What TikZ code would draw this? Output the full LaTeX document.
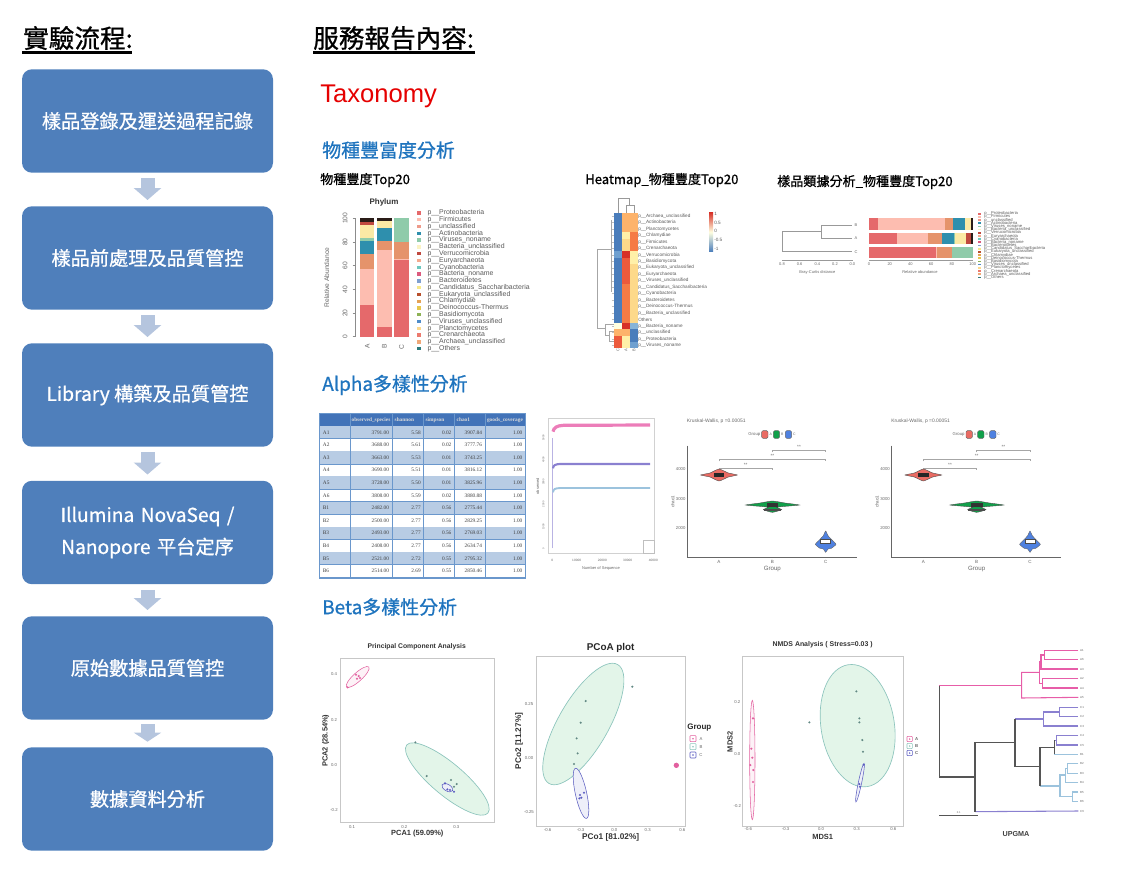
\documentclass[tikz,border=0pt]{standalone}
\usepackage{fontspec}
\usepackage{xcolor}
\usetikzlibrary{arrows.meta}
\setmainfont{Liberation Sans}
\newfontfamily\cjk[FakeBold=0.9]{Noto Sans CJK TC}
\newfontfamily\cjkfat[FakeBold=0.8]{Noto Sans CJK TC}
\newfontfamily\tablefont{Liberation Serif}
\newcommand{\fs}[1]{\fontsize{#1}{#1}\selectfont}
\definecolor{flowblue}{HTML}{4F7FBB}
\definecolor{flowpale}{HTML}{B5C5DE}
\definecolor{secblue}{HTML}{1F74BE}
\definecolor{stred}{HTML}{E5696B}
\definecolor{stpink}{HTML}{FDBDB0}
\definecolor{storange}{HTML}{E5936B}
\definecolor{stteal}{HTML}{2E8FAD}
\definecolor{stmint}{HTML}{8FCBAA}
\definecolor{styellow}{HTML}{FBE9A5}
\definecolor{stdeep}{HTML}{C0493F}
\definecolor{stblack}{HTML}{2A1C18}
\definecolor{hb}{HTML}{4A7DBB}
\definecolor{hl}{HTML}{6FA0D0}
\definecolor{hm}{HTML}{88B4D8}
\definecolor{hw}{HTML}{FFFFE0}
\definecolor{hp}{HTML}{FFF0A8}
\definecolor{hy}{HTML}{FDD98A}
\definecolor{ho}{HTML}{FDB36B}
\definecolor{hf}{HTML}{F57B45}
\definecolor{hs}{HTML}{EC5A3C}
\definecolor{hd}{HTML}{D73027}
\definecolor{tabhead}{HTML}{4273B8}
\definecolor{tabrow}{HTML}{B8CCE4}
\definecolor{tabline}{HTML}{6A97CC}
\definecolor{grpa}{HTML}{E2609F}
\definecolor{grpb}{HTML}{8CC4BC}
\definecolor{grpc}{HTML}{5A5CC0}
\definecolor{greenfill}{HTML}{E3F5E9}
\definecolor{treepink}{HTML}{E75DA8}
\definecolor{treepurple}{HTML}{8A80D0}
\definecolor{treelight}{HTML}{9CC3DD}
\definecolor{treedark}{HTML}{555555}
\newcommand{\phylumlist}{0/E5696B/Proteobacteria,1/FDBDB0/Firmicutes,2/EE9A8A/unclassified,3/2E8FAD/Actinobacteria,4/8FCBAA/Viruses\_noname,5/FBF3C4/Bacteria\_unclassified,6/C0493F/Verrucomicrobia,7/F5A98E/Euryarchaeota,8/6CC7BE/Cyanobacteria,9/DC5A7E/Bacteria\_noname,10/7FA0D0/Bacteroidetes,11/F7E88A/Candidatus\_Saccharibacteria,12/B8502C/Eukaryota\_unclassified,13/E5A255/Chlamydiae,14/E6C74C/Deinococcus-Thermus,15/8DB255/Basidiomycota,16/4F8CC9/Viruses\_unclassified,17/FCD98C/Planctomycetes,18/EC7A6E/Crenarchaeota,19/F0A878/Archaea\_unclassified,20/2C7B7B/Others}
\begin{document}
\begin{tikzpicture}[
x=0.75pt,
y=-0.75pt,
flowbox/.style={fill=flowblue,rounded corners=7.5pt,minimum width=188.25pt,minimum height=77.6pt,inner sep=0pt,align=center,text=white,font=\cjkfat\fs{14.4}},
flowarrow/.style={draw=flowpale,line width=10.5pt,-{Triangle[width=20.25pt,length=9pt]},shorten <=4pt,shorten >=4.5pt},
mainhead/.style={font=\cjk\fs{19.2},inner sep=0pt,anchor=west},
sechead/.style={font=\cjkfat\fs{14.2},text=secblue,inner sep=0pt,anchor=west},
charthead/.style={font=\cjkfat\fs{9.8},inner sep=0pt,anchor=west},
legtext/.style={inner sep=0pt,anchor=west,text=black!65},
ticktext/.style={inner sep=0pt,text=black!60},
axistext/.style={inner sep=0pt,text=black!80,font=\bfseries\fs{5.6}},
frameline/.style={draw=black!22,line width=0.7pt},
treeline/.style={line width=0.8pt},
bracketline/.style={draw=black!35,line width=0.4pt},
]
\useasboundingbox (0,0) rectangle (1140,875);

%% left column
% nodes
\node[mainhead] (hleft) at (23,38) {實驗流程:};
\node[flowbox] (b1) at (147.5,121) {樣品登錄及運送過程記錄};
\node[flowbox] (b2) at (147.5,258) {樣品前處理及品質管控};
\node[flowbox] (b3) at (147.5,395) {Library 構築及品質管控};
\node[flowbox,text width=180pt,execute at begin node=\setlength{\baselineskip}{24pt}] (b4) at (147.5,532.5) {Illumina NovaSeq /\\ Nanopore 平台定序};
\node[flowbox] (b5) at (147.5,668) {原始數據品質管控};
\node[flowbox] (b6) at (147.5,799) {數據資料分析};
% arrows
\draw[flowarrow] (b1) -- (b2);
\draw[flowarrow] (b2) -- (b3);
\draw[flowarrow] (b3) -- (b4);
\draw[flowarrow] (b4) -- (b5);
\draw[flowarrow,shorten <=3.2pt,shorten >=4pt,-{Triangle[width=20.25pt,length=6.75pt]}] (b5) -- (b6);
\draw[line width=1.6pt] (22,52.5) -- (132,52.5);

%% right column headings
\node[mainhead] (hright) at (313,38) {服務報告內容:};
\draw[line width=1.6pt] (313,52.5) -- (475,52.5);
\node[inner sep=0pt,anchor=west,text=red!90!black,font=\fs{19.2}] (taxon) at (320,96) {Taxonomy};
\node[sechead] (secrich) at (322,150) {物種豐富度分析};
\node[sechead] (secalpha) at (322,385) {Alpha多樣性分析};
\node[sechead] (secbeta) at (322,607) {Beta多樣性分析};
\node[charthead] (tbar) at (320,180) {物種豐度Top20};
\node[charthead] (theat) at (585,180) {Heatmap\_物種豐度Top20};
\node[charthead] (tclust) at (777,182) {樣品類據分析\_物種豐度Top20};

%% stacked bars
\begin{scope}[shift={(310,165)},x=0.25pt,y=-0.25pt]
\node[inner sep=0pt,text=black!80,font=\bfseries\fs{6}] (tphylum) at (222,113) {Phylum};
\foreach \col/\xa/\lo/\hi in {stred/150/0/27,stpink/150/27/57,storange/150/57/70,stteal/150/70/81,stmint/150/81/83,styellow/150/83/94,stdeep/150/94/97,stblack/150/97/100,stred/202/0/8,stpink/202/8/73,storange/202/73/81,stteal/202/81/92,styellow/202/92/98,stblack/202/98/100,stred/253/0/65,stpink/253/65/66,storange/253/66/80,stmint/253/80/100}
  \fill[\col] (\xa,{515-3.55*\lo}) rectangle ({\xa+43},{515-3.55*\hi});
\draw[black!45,line width=0.4pt] (135,160) -- (135,515);
\foreach \v in {0,20,40,60,80,100} {
  \draw[black!45,line width=0.4pt] (128,{515-3.55*\v}) -- (135,{515-3.55*\v});
  \node[ticktext,rotate=90,font=\fs{5}] at (105,{515-3.55*\v}) {\v};
}
\node[ticktext,rotate=90,font=\fs{5}] (ylbar) at (50,338) {Relative Abundance};
\foreach \xa/\nm in {172/A,223/B,275/C}
  \node[ticktext,rotate=90,font=\fs{5}] at (\xa,545) {\nm};
\foreach \i/\hex/\nm in \phylumlist {
  \definecolor{lc}{HTML}{\hex}
  \fill[lc] (322,{139+20.35*\i}) rectangle (333,{149+20.35*\i});
  \node[legtext,font=\fs{5.2}] at (352,{144+20.35*\i}) {p\_\_\nm};
}
\end{scope}

%% heatmap
\begin{scope}[shift={(570,165)},x=0.25pt,y=-0.25pt]
\foreach \i/\ca/\cb/\cc/\nm in {0/hb/ho/ho/Archaea\_unclassified,1/hb/ho/ho/Actinobacteria,2/hb/ho/ho/Planctomycetes,3/hb/hp/hf/Chlamydiae,4/hb/hy/hf/Firmicutes,5/hb/hy/hf/Crenarchaeota,6/hl/hd/hp/Verrucomicrobia,7/hb/hs/hp/Basidiomycota,8/hb/hs/hy/Eukaryota\_unclassified,9/hb/hs/hy/Euryarchaeota,10/hb/hs/hy/Viruses\_unclassified,11/hb/hf/hy/Candidatus\_Saccharibacteria,12/hb/hf/hy/Cyanobacteria,13/hb/hf/hy/Bacteroidetes,14/hb/hf/hy/Deinococcus-Thermus,15/hb/hf/hy/Bacteria\_unclassified,16/hb/hf/hy/Others,17/hw/hd/hm/Bacteria\_noname,18/ho/ho/hb/unclassified,19/hs/hp/hb/Proteobacteria,20/hs/hp/hl/Viruses\_noname} {
  \fill[\ca] (132,{143+19.4*\i}) rectangle (156.3,{143+19.4*(\i+1)});
  \fill[\cb] (156,{143+19.4*\i}) rectangle (180.3,{143+19.4*(\i+1)});
  \fill[\cc] (180,{143+19.4*\i}) rectangle (204,{143+19.4*(\i+1)});
  \node[legtext,font=\fs{3.5}] at (204,{153+19.4*\i}) {\ifnum\i=16\relax\else p\_\_\fi\nm};
  \draw[black!25,line width=0.2pt] (125,{153+19.4*\i}) -- (132,{153+19.4*\i});
}
\draw[black!40,line width=0.3pt] (144,143) -- (144,100) -- (179,100) -- (179,122);
\draw[black!40,line width=0.3pt] (168,143) -- (168,122) -- (192,122) -- (192,143);
\draw[black!35,line width=0.3pt] (125,165) -- (125,380);
\draw[black!35,line width=0.3pt] (125,252) -- (82,252) -- (82,490) -- (105,490);
\draw[black!35,line width=0.3pt] (132,478) -- (105,478) -- (105,510) -- (118,510);
\draw[black!35,line width=0.3pt] (132,500) -- (118,500) -- (118,530) -- (132,530);
\fill[top color=hd,bottom color=hb,middle color=hw] (417,142) rectangle (429,260);
\foreach \yy/\nm in {147/1,173/0.5,199/0,226/-0.5,252/-1}
  \node[legtext,font=\fs{3.5}] at (432,\yy) {\nm};
\foreach \xa/\nm in {144/C,168/A,192/B}
  \node[ticktext,rotate=90,font=\fs{3}] at (\xa,555) {\nm};
\end{scope}

%% clustered bars
\begin{scope}[shift={(770,200)},x=0.25pt,y=-0.25pt]
\draw[black!40,line width=0.4pt] (245,75) -- (155,75) -- (155,115) -- (245,115);
\draw[black!40,line width=0.4pt] (155,95) -- (36,95) -- (36,155) -- (245,155);
\foreach \yy/\nm in {75/B,115/A,155/C}
  \node[ticktext,font=\fs{3}] at (258,\yy) {\nm};
\draw[black!40,line width=0.3pt] (36,180) -- (247,180);
\foreach \xa/\nm in {36/0.8,89/0.6,142/0.4,195/0.2,247/0.0} {
  \draw[black!40,line width=0.3pt] (\xa,180) -- (\xa,184);
  \node[ticktext,font=\fs{3}] at (\xa,191) {\nm};
}
\node[ticktext,font=\fs{3}] (xldist) at (142,216) {Bray-Curtis distance};
\foreach \col/\yy/\lo/\hi in {stred/55/0/9,stpink/55/9/73,storange/55/73/81,stteal/55/81/93,styellow/55/93/98,stblack/55/98/100,stred/98/0/27,stpink/98/27/57,storange/98/57/70,stteal/98/70/82,stmint/98/82/83,styellow/98/83/94,stdeep/98/94/98,stblack/98/98/100,stred/140/0/65,stpink/140/65/66,storange/140/66/80,stmint/140/80/100}
  \fill[\col] ({297+3.11*\lo},\yy) rectangle ({297+3.11*\hi},{\yy+34});
\draw[black!40,line width=0.3pt] (297,180) -- (608,180);
\foreach \v in {0,20,40,60,80,100} {
  \draw[black!40,line width=0.3pt] ({297+3.11*\v},180) -- ({297+3.11*\v},184);
  \node[ticktext,font=\fs{3}] at ({297+3.11*\v},193) {\v};
}
\node[ticktext,font=\fs{3}] (xlrel) at (450,216) {Relative abundance};
\foreach \i/\hex/\nm in \phylumlist {
  \definecolor{lc}{HTML}{\hex}
  \fill[lc] (625,{38.5+9.55*\i}) rectangle (632,{43.5+9.55*\i});
  \node[legtext,font=\fs{3.1}] at (642,{41+9.55*\i}) {p\_\_\nm};
}
\end{scope}

%% table
\begin{scope}[shift={(310,405)},x=0.25pt,y=-0.25pt,font=\tablefont]
\fill[tabhead] (27,25) rectangle (646,63);
\foreach \xa/\nm in {183/observed\_species,283/shannon,375/simpson,460/chao1,585/goods\_coverage}
  \node[inner sep=0pt,text=white!85!black,font=\tablefont\bfseries\fs{4}] at (\xa,45) {\nm};
\foreach \i/\nm/\va/\vb/\vc/\vd in {0/A1/3791.00/5.58/0.02/3907.84,1/A2/3688.00/5.61/0.02/3777.76,2/A3/3663.00/5.53/0.01/3743.25,3/A4/3690.00/5.51/0.01/3816.12,4/A5/3728.00/5.50/0.01/3825.96,5/A6/3808.00/5.59/0.02/3880.88,6/B1/2482.00/2.77/0.56/2775.44,7/B2/2500.00/2.77/0.56/2829.25,8/B3/2493.00/2.77/0.56/2769.03,9/B4/2408.00/2.77/0.56/2634.74,10/B5/2521.00/2.72/0.55/2795.32,11/B6/2514.00/2.69/0.55/2850.46} {
  \pgfmathparse{int(mod(\i,2))}
  \ifnum\pgfmathresult=0\relax\fill[tabrow] (27,{63+37.8*\i}) rectangle (646,{63+37.8*(\i+1)});\fi
  \draw[tabline,line width=0.4pt] (27,{63+37.8*(\i+1)}) -- (646,{63+37.8*(\i+1)});
  \node[inner sep=0pt,anchor=west,text=black!75,font=\tablefont\fs{4}] at (38,{82+37.8*\i}) {\nm};
  \node[inner sep=0pt,anchor=east,text=black!75,font=\tablefont\fs{4}] at (238,{82+37.8*\i}) {\va};
  \node[inner sep=0pt,anchor=east,text=black!75,font=\tablefont\fs{4}] at (333,{82+37.8*\i}) {\vb};
  \node[inner sep=0pt,anchor=east,text=black!75,font=\tablefont\fs{4}] at (425,{82+37.8*\i}) {\vc};
  \node[inner sep=0pt,anchor=east,text=black!75,font=\tablefont\fs{4}] at (517,{82+37.8*\i}) {\vd};
  \node[inner sep=0pt,anchor=east,text=black!75,font=\tablefont\fs{4}] at (638,{82+37.8*\i}) {1.00};
}
\foreach \xa in {27,120,247,340,433,525,646}
  \draw[tabline,line width=0.4pt] (\xa,25) -- (\xa,520);
\draw[tabline,line width=0.4pt] (27,25) rectangle (646,520);

%% rarefaction
\draw[black!18,line width=0.5pt] (715,40) rectangle (1033,445);
\draw[treepurple!60!white,line width=0.4pt] (727,430) -- (727,100);
\draw[treelight,line width=1.4pt] (729,262) .. controls (730,252) and (735,250) .. (750,249) -- (1020,249);
\draw[treepurple,line width=1.6pt] (729,190) .. controls (730,180) and (735,178) .. (750,177) -- (1020,177);
\draw[treepink!80!white,line width=2.4pt] (729,80) .. controls (731,68) and (740,62) .. (760,61) -- (1020,60);
\foreach \yy/\nm in {431/0,365/1000,298/2000,231/3000,164/4000,98/5000}
  \node[ticktext,rotate=90,font=\fs{2}] at (700,\yy) {\nm};
\foreach \xa/\nm in {727/0,800/10000,877/20000,953/30000,1030/40000}
  \node[ticktext,font=\fs{2.4}] at (\xa,465) {\nm};
\node[ticktext,font=\fs{3}] (xlseq) at (873,490) {Number of Sequence};
\node[ticktext,rotate=90,font=\fs{3}] (ylobs) at (683,243) {observed};
\draw[black!25,fill=white,line width=0.4pt] (1000,405) rectangle (1033,445);
\end{scope}

%% violins
\foreach \dx in {0,204.33} {
\begin{scope}[shift={(670+\dx,405)},x=0.25pt,y=-0.25pt]
\node[ticktext,anchor=west,font=\fs{3.7}] at (50,50) {Kruskal-Wallis, p =0.00051};
\node[ticktext,font=\fs{3.2}] at (253,88) {Group};
\foreach \xa/\col/\nm in {275/E96B63/A,310/11A04A/B,346/4F81E0/C} {
  \definecolor{lc}{HTML}{\col}
  \draw[black!60,fill=lc,line width=0.3pt,rounded corners=1pt] (\xa,77) rectangle ({\xa+19},100);
  \node[ticktext,font=\fs{2.6}] at ({\xa+27},88) {\nm};
}
\draw[black!60,line width=0.9pt] (52,122) -- (52,458) -- (560,458);
\foreach \yy/\nm in {193/4000,282/3000,370/2000}
  \node[ticktext,font=\fs{3.2}] at (32,\yy) {\nm};
\foreach \xa/\nm in {147/A,307/B,467/C}
  \node[ticktext,font=\fs{3.4}] at (\xa,470) {\nm};
\node[ticktext,font=\fs{4.6}] at (307,492) {Group};
\node[ticktext,rotate=90,font=\fs{3.4}] at (8,290) {chao1};
\draw[bracketline] (147,196) -- (147,190) -- (307,190) -- (307,196);
\draw[bracketline] (147,169) -- (147,163) -- (467,163) -- (467,169);
\draw[bracketline] (307,142) -- (307,136) -- (467,136) -- (467,142);
\foreach \xa/\yy in {227/179,307/153,387/127}
  \node[ticktext,font=\fs{3.5}] at (\xa,\yy) {**};
\definecolor{lc}{HTML}{E96B63}
\draw[black!70,fill=lc,line width=0.3pt] plot[smooth cycle,tension=0.3] coordinates {(92,210)(120,204)(147,192)(175,204)(202,210)(175,216)(147,228)(120,216)};
\fill[black!85] (131,205) rectangle (163,215);
\definecolor{lc}{HTML}{11A04A}
\draw[black!70,fill=lc,line width=0.3pt] plot[smooth cycle,tension=0.3] coordinates {(227,300)(270,294)(307,288)(345,294)(388,300)(345,304)(320,307)(335,314)(307,322)(280,314)(295,307)(270,304)};
\fill[black!80] (290,295) rectangle (325,305);
\fill[black!70] (282,311) rectangle (333,317);
\definecolor{lc}{HTML}{4F81E0}
\draw[black!60,fill=lc,line width=0.3pt] plot[smooth cycle,tension=0.3] coordinates {(467,378)(460,392)(448,405)(436,418)(450,430)(460,432)(467,442)(474,432)(484,430)(498,418)(486,405)(474,392)};
\draw[black!70,fill=white,line width=0.3pt] (452,402) rectangle (482,415);
\end{scope}
}

%% pca
\begin{scope}[shift={(310,630)},x=0.25pt,y=-0.25pt]
\node[inner sep=0pt,text=black!80,font=\bfseries\fs{5.1}] (tpca) at (320,50) {Principal Component Analysis};
\draw[frameline] (92,85) rectangle (553,577);
\foreach \yy/\nm in {133/0.4,269/0.2,405/0.0,541/-0.2}
  \node[ticktext,font=\fs{3.2}] at (72,\yy) {\nm};
\foreach \xa/\nm in {126/0.1,283/0.2,439/0.3}
  \node[ticktext,font=\fs{3.2}] at (\xa,590) {\nm};
\node[axistext] (xlpca) at (322,610) {PCA1 (59.09\%)};
\node[axistext,rotate=90] (ylpca) at (47,332) {PCA2 (28.54\%)};
\draw[grpa,line width=0.4pt,rotate around={42:(143,141)},fill=grpa!8] (143,141) ellipse [x radius=45,y radius=13];
\draw[grpb,line width=0.5pt,rotate around={-40:(412,447)},fill=greenfill] (412,447) ellipse [x radius=159,y radius=48];
\draw[grpc,line width=0.4pt,rotate around={-30:(412,473)},fill=grpc!10] (412,473) ellipse [x radius=18,y radius=10];
\foreach \px/\py in {316/337,350/438,423/450,440/462,432/470}
  \fill[grpb!70!black] (\px,\py) circle (3.5);
\foreach \px/\py in {405/460,412/478,420/480,432/485}
  \fill[grpc] (\px,\py) circle (3.5);
\foreach \px/\py in {113/172,138/134,146/138,141/146,150/144}
  \fill[grpa] (\px,\py) circle (3.5);
\end{scope}

%% pcoa
\begin{scope}[shift={(310,630)},x=0.25pt,y=-0.25pt]
\node[inner sep=0pt,text=black!85,font=\bfseries\fs{7.4}] (tpcoa) at (902,55) {PCoA plot};
\draw[frameline] (678,78) rectangle (1127,588);
\foreach \yy/\nm in {222/0.25,384/0.00,545/-0.25}
  \node[ticktext,font=\fs{3.2}] at (657,\yy) {\nm};
\foreach \xa/\nm in {713/-0.6,812/-0.3,913/0.0,1013/0.3,1117/0.6}
  \node[ticktext,font=\fs{3.2}] at (\xa,600) {\nm};
\node[axistext,font=\bfseries\fs{6.2}] (xlpcoa) at (902,622) {PCo1 [81.02\%]};
\node[axistext,rotate=90,font=\bfseries\fs{6.2}] (ylpcoa) at (627,333) {PCo2 [11.27\%]};
\draw[grpb,line width=0.5pt,rotate around={60:(820,282)},fill=greenfill] (820,282) ellipse [x radius=206,y radius=75];
\draw[grpc,line width=0.4pt,rotate around={-77.6:(813,490)},fill=grpc!10] (813,490) ellipse [x radius=77,y radius=17];
\foreach \px/\py in {967/170,827/213,812/278,800/325,803/370,792/402}
  \fill[grpb!70!black] (\px,\py) circle (3.5);
\foreach \px/\py in {810/495,814/503,808/505,822/488}
  \fill[grpc] (\px,\py) circle (3.5);
\fill[grpa] (1099,406) circle (8);
\node[inner sep=0pt,text=black!85,font=\bfseries\fs{6}] (grouplab) at (1168,292) {Group};
\foreach \yy/\col/\nm in {326/grpa/A,350/grpb/B,375/grpc/C} {
  \draw[\col,line width=0.4pt,rounded corners=0.5pt] (1140,{\yy-9}) rectangle (1158,{\yy+9});
  \fill[\col] (1149,\yy) circle (2.5);
  \node[ticktext,font=\fs{3.2}] at (1173,\yy) {\nm};
}
\end{scope}

%% nmds
\begin{scope}[shift={(720,630)},x=0.25pt,y=-0.25pt]
\node[inner sep=0pt,text=black!80,font=\bfseries\fs{5.2}] (tnmds) at (308,43) {NMDS Analysis ( Stress=0.03 )};
\draw[frameline] (68,78) rectangle (550,588);
\foreach \yy/\nm in {216/0.2,372/0.0,528/-0.2}
  \node[ticktext,font=\fs{3.2}] at (52,\yy) {\nm};
\foreach \xa/\nm in {85/-0.6,197/-0.3,303/0.0,410/0.3,520/0.6}
  \node[ticktext,font=\fs{3.2}] at (\xa,598) {\nm};
\node[axistext] (xlnmds) at (308,620) {MDS1};
\node[axistext,rotate=90] (ylnmds) at (30,335) {MDS2};
\draw[grpb,line width=0.5pt,rotate around={99:(413,287)},fill=greenfill] (413,287) ellipse [x radius=185,y radius=110];
\draw[grpa,line width=0.4pt,fill=grpa!8] (97,390) ellipse [x radius=8,y radius=179];
\draw[grpc,line width=0.4pt,rotate around={78:(420,458)},fill=grpc!10] (420,458) ellipse [x radius=59,y radius=5];
\foreach \px/\py in {99/265,94/356,97/383,91/405,100/420,99/456}
  \fill[grpa] (\px,\py) circle (3.5);
\foreach \px/\py in {268/277,409/184,418/265,418/277,427/330,429/365}
  \fill[grpb!70!black] (\px,\py) circle (3.5);
\foreach \px/\py in {431/404,418/462,420/470}
  \fill[grpc] (\px,\py) circle (3.5);
\foreach \yy/\col/\nm in {327/grpa/A,348/grpb/B,369/grpc/C} {
  \draw[\col,line width=0.4pt,rounded corners=0.5pt] (561,{\yy-8}) rectangle (577,{\yy+8});
  \fill[\col] (569,\yy) circle (2.5);
  \node[ticktext,font=\bfseries\fs{3.2}] at (590,\yy) {\nm};
}

%% upgma
\draw[treeline,treepink] (658,167) -- (905,167);
\draw[treeline,treepink] (1075,202) -- (905,204) -- (905,127) -- (958,127);
\draw[treeline,treepink] (963,96) -- (958,96) -- (958,160) -- (968,160);
\draw[treeline,treepink] (1075,61) -- (973,61) -- (973,89) -- (1075,89);
\draw[treeline,treepink] (973,75) -- (963,75) -- (963,117) -- (1075,117);
\draw[treeline,treepink] (1075,146) -- (968,146) -- (968,174) -- (1075,174);
\draw[treeline,treepurple] (885,267) -- (971,267);
\draw[treeline,treepurple] (1075,288) -- (971,288) -- (971,246) -- (1019,246);
\draw[treeline,treepurple] (1075,232) -- (1019,232) -- (1019,260) -- (1075,260);
\draw[treeline,treepurple] (1003,331) -- (1010,331);
\draw[treeline,treepurple] (1075,317) -- (1010,317) -- (1010,345) -- (1075,345);
\draw[treeline,treelight] (1003,373) -- (1075,373);
\draw[treeline,treelight] (960,468) -- (1020,468);
\draw[treeline,treelight] (1037,435) -- (1020,435) -- (1020,500) -- (1058,500);
\draw[treeline,treelight] (1075,458) -- (1037,458) -- (1037,415) -- (1043,415);
\draw[treeline,treelight] (1075,401) -- (1043,401) -- (1043,430) -- (1075,430);
\draw[treeline,treelight] (1075,486) -- (1058,486) -- (1058,514) -- (1075,514);
\draw[treeline,treepurple] (765,545) -- (1075,543);
\draw[treeline,treedark,line width=1pt] (658,167) -- (658,441) -- (765,441);
\draw[treeline,treedark,line width=1pt] (765,545) -- (765,338) -- (885,338);
\draw[treeline,treedark,line width=1pt] (885,267) -- (885,410) -- (960,410);
\draw[treeline,treedark,line width=1pt] (960,468) -- (960,352) -- (1003,352);
\draw[treeline,treedark,line width=1pt] (1003,331) -- (1003,373);
\draw[treedark,line width=1pt] (658,557) -- (775,557);
\node[ticktext,font=\fs{2}] (scalelab) at (716,549) {0.1};
\foreach \yy/\nm in {61/A1,89/A6,117/A3,146/A2,174/A4,202/A5,232/C1,260/C2,288/C3,317/C4,345/C5,373/B1,401/B2,430/B3,458/B4,486/B5,514/B6,543/C6}
  \node[ticktext,font=\fs{2.2}] at (1086,\yy) {\nm};
\node[inner sep=0pt,text=black!75,font=\bfseries\fs{5.4}] (tupgma) at (888,612) {UPGMA};
\end{scope}
\end{tikzpicture}
\end{document}
